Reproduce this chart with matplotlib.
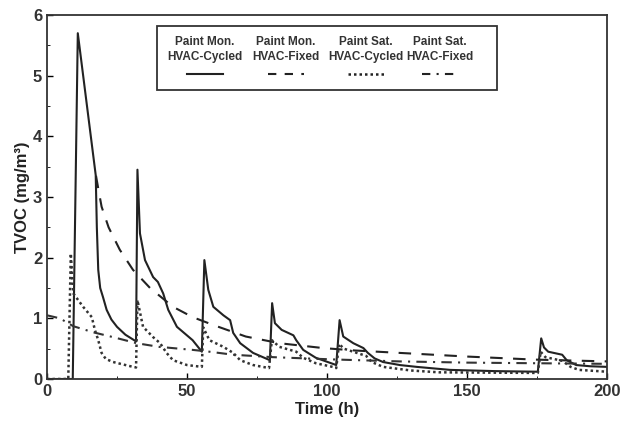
import matplotlib
matplotlib.use("Agg")
import matplotlib.pyplot as plt
from matplotlib.lines import Line2D
from matplotlib.patches import Rectangle

plt.rcParams['font.family'] = ['Liberation Sans', 'DejaVu Sans']

# Paint Mon., HVAC-Cycled
mon_cyc_t = [0, 9.2, 11.0, 17.4, 17.8, 18.3, 19, 20, 21.3, 23, 25, 28, 31.8,
             32.3, 33.2, 35, 37.9, 39.6, 41.5, 43.3, 46.4, 52, 55.3,
             56.2, 57.6, 59.4, 63, 65.4, 66.5, 69, 73.6, 79.6,
             80.4, 81.4, 83.8, 88, 89, 91.5, 96, 103.3,
             104.5, 105.8, 109.4, 113, 114.6, 117, 120, 126, 132, 144, 160, 175.3,
             176.5, 177.5, 179, 184, 185.6, 189, 194, 200]
mon_cyc_v = [0, 0, 5.7, 3.36, 2.5, 1.8, 1.5, 1.35, 1.14, 0.98, 0.86, 0.73, 0.62,
             3.45, 2.4, 1.96, 1.68, 1.6, 1.41, 1.14, 0.86, 0.64, 0.45,
             1.96, 1.47, 1.19, 1.05, 0.97, 0.76, 0.59, 0.43, 0.31,
             1.25, 0.92, 0.81, 0.72, 0.64, 0.48, 0.35, 0.23,
             0.97, 0.7, 0.59, 0.51, 0.43, 0.34, 0.28, 0.23, 0.2, 0.15, 0.13, 0.12,
             0.67, 0.52, 0.45, 0.4, 0.31, 0.23, 0.21, 0.2]

# Paint Mon., HVAC-Fixed
mon_fix_t = [17.5, 18.3, 19.5, 22, 26, 30.7, 36.8, 45, 52, 59.4, 71, 83, 98.6, 110, 126, 150, 174, 200]
mon_fix_v = [3.35, 3.14, 2.84, 2.5, 2.13, 1.8, 1.5, 1.19, 1.02, 0.89, 0.7, 0.59, 0.51, 0.47, 0.43, 0.37, 0.32, 0.29]

# Paint Sat., HVAC-Cycled
sat_cyc_t = [0, 7.6, 8.5, 9.4, 12.9, 16, 17.1, 18.3, 19.5, 21, 23.6, 30.7, 31.8,
             32.3, 34.3, 37.9, 40.4, 42.7, 45, 50, 55.3,
             55.8, 58, 63, 66.5, 69, 73.6, 79.3,
             80.3, 83, 89, 91.5, 96, 102, 103.3,
             104.3, 106, 110, 114, 116, 120, 130, 140, 175.3,
             176.3, 178, 184, 187, 190, 200]
sat_cyc_v = [0, 0, 2.07, 1.41, 1.19, 1.02, 0.81, 0.64, 0.43, 0.33, 0.28, 0.2, 0.19,
             1.3, 0.86, 0.69, 0.59, 0.43, 0.31, 0.23, 0.2,
             0.85, 0.64, 0.53, 0.43, 0.31, 0.23, 0.18,
             0.64, 0.53, 0.45, 0.35, 0.26, 0.2, 0.18,
             0.58, 0.5, 0.44, 0.38, 0.28, 0.2, 0.14, 0.11, 0.1,
             0.45, 0.36, 0.3, 0.2, 0.15, 0.12]

# Paint Sat., HVAC-Fixed
sat_fix_t = [0, 4.6, 9.4, 16.5, 23.6, 32, 40, 52, 58, 66.5, 80.7, 92, 104, 126, 150, 174, 200]
sat_fix_v = [1.05, 1.0, 0.87, 0.77, 0.69, 0.59, 0.53, 0.48, 0.45, 0.4, 0.36, 0.34, 0.32, 0.29, 0.27, 0.26, 0.25]

fig = plt.figure(figsize=(6.2, 4.23), dpi=100)
ax = fig.add_axes([47/620, 44/423, 560/620, 364/423])

ax.plot(mon_cyc_t, mon_cyc_v, color='#222222', lw=1.5, ls='-')
ax.plot(mon_fix_t, mon_fix_v, color='#222222', lw=1.5, ls=(0, (6, 5)))
ax.plot(sat_cyc_t, sat_cyc_v, color='#333333', lw=1.8, ls=(0, (1, 1.2)))
ax.plot(sat_fix_t, sat_fix_v, color='#333333', lw=1.5, ls=(0, (5, 3, 1, 3)))

ax.set_xlim(0, 200)
ax.set_ylim(0, 6)
ax.set_xticks([0, 50, 100, 150, 200])
ax.set_yticks([0, 1, 2, 3, 4, 5, 6])
ax.set_yticks([0.5, 1.5, 2.5, 3.5, 4.5, 5.5], minor=True)
ax.set_xticks([25, 75, 125, 175], minor=True)
ax.tick_params(direction='in', length=4, labelsize=12, width=1)
ax.tick_params(which='minor', direction='in', length=2)
for lab in ax.get_xticklabels() + ax.get_yticklabels():
    lab.set_fontweight('bold')
    lab.set_color('#333333')
for sp in ax.spines.values():
    sp.set_linewidth(1.3)
    sp.set_color('#333333')

ax.set_xlabel('Time (h)', fontsize=12, fontweight='bold', color='#222222', labelpad=2)
ax.set_ylabel('TVOC (mg/m³)', fontsize=12, fontweight='bold', color='#222222', labelpad=2)

# Legend drawn manually (labels above handles)
def ax_x(px):
    return (px - 47) / 560
def ax_y(py):
    return (379 - py) / 364

x0, x1 = ax_x(157), ax_x(497)
y0, y1 = ax_y(90), ax_y(26)
ax.add_patch(Rectangle((x0, y0), x1 - x0, y1 - y0, transform=ax.transAxes,
                       fill=True, facecolor='white', edgecolor='#333333', lw=1.3, zorder=5))
labels = [("Paint Mon.", "HVAC-Cycled"), ("Paint Mon.", "HVAC-Fixed"),
          ("Paint Sat.", "HVAC-Cycled"), ("Paint Sat.", "HVAC-Fixed")]
styles = [dict(ls='-', lw=1.5), dict(ls=(0, (4, 4)), lw=1.5),
          dict(ls=(0, (1, 1.2)), lw=1.8), dict(ls=(0, (4, 3, 1, 3)), lw=1.5)]
centers = [205, 286, 366, 440]
for cx, (l1, l2), st in zip(centers, labels, styles):
    ax.text(ax_x(cx), ax_y(42), l1, transform=ax.transAxes, ha='center', va='center',
            fontsize=8.5, fontweight='bold', color='#333333', zorder=6)
    ax.text(ax_x(cx), ax_y(57), l2, transform=ax.transAxes, ha='center', va='center',
            fontsize=8.5, fontweight='bold', color='#333333', zorder=6)
    ax.add_line(Line2D([ax_x(cx - 18), ax_x(cx + 18)], [ax_y(74), ax_y(74)],
                       transform=ax.transAxes, color='#222222', zorder=6, **st))

fig.savefig('out.png', dpi=100)
